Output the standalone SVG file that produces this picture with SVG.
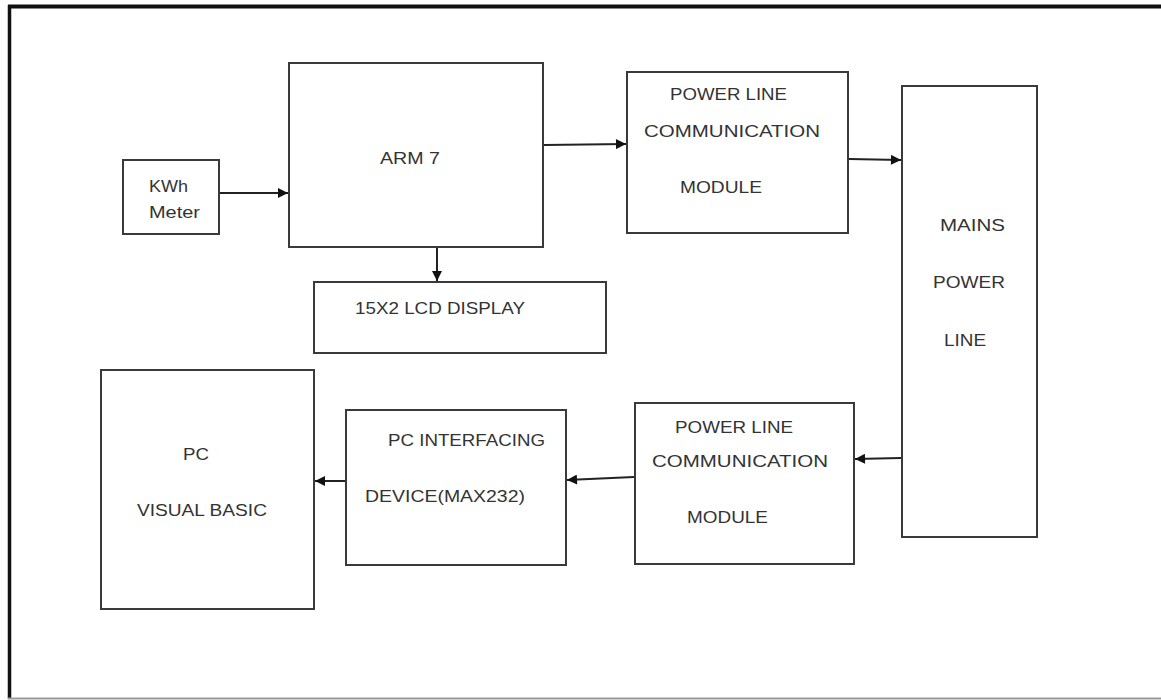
<svg xmlns="http://www.w3.org/2000/svg" width="1161" height="700" viewBox="0 0 1161 700">
<style>
.box{fill:#fff;stroke:#3a3a3a;stroke-width:2}
.lbl{font-family:"Liberation Sans",Arial,sans-serif;font-size:17px;fill:#333}
.con{stroke:#222;stroke-width:2;fill:none;marker-end:url(#ah)}
</style>
<defs>
<marker id="ah" viewBox="0 0 10 10" refX="10" refY="5" markerWidth="11" markerHeight="10" markerUnits="userSpaceOnUse" orient="auto">
<path d="M0,0 L10,5 L0,10 Z" fill="#111"/>
</marker>
</defs>
<rect width="1161" height="700" fill="#fff"/>
<g id="frame">
<line x1="8" y1="6.5" x2="1161" y2="6.5" stroke="#111" stroke-width="4"/>
<line x1="9.5" y1="5" x2="9.5" y2="699" stroke="#111" stroke-width="3.5"/>
<line x1="8" y1="698.5" x2="1161" y2="698.5" stroke="#999" stroke-width="2"/>
</g>
<g id="kwh">
<rect class="box" x="123" y="160" width="96" height="74"/>
<text class="lbl" x="149" y="192" textLength="39" lengthAdjust="spacingAndGlyphs">KWh</text>
<text class="lbl" x="149" y="218" textLength="51" lengthAdjust="spacingAndGlyphs">Meter</text>
</g>
<g id="arm">
<rect class="box" x="289" y="63" width="254" height="184"/>
<text class="lbl" x="380" y="164" textLength="60" lengthAdjust="spacingAndGlyphs">ARM 7</text>
</g>
<g id="lcd">
<rect class="box" x="314" y="282" width="292" height="71"/>
<text class="lbl" x="355" y="314" textLength="170" lengthAdjust="spacingAndGlyphs">15X2 LCD DISPLAY</text>
</g>
<g id="plc1">
<rect class="box" x="627" y="72" width="221" height="161"/>
<text class="lbl" x="670" y="100" textLength="117" lengthAdjust="spacingAndGlyphs">POWER LINE</text>
<text class="lbl" x="644" y="137" textLength="176" lengthAdjust="spacingAndGlyphs">COMMUNICATION</text>
<text class="lbl" x="680" y="193" textLength="82" lengthAdjust="spacingAndGlyphs">MODULE</text>
</g>
<g id="mains">
<rect class="box" x="902" y="86" width="135" height="451"/>
<text class="lbl" x="940" y="231" textLength="65" lengthAdjust="spacingAndGlyphs">MAINS</text>
<text class="lbl" x="933" y="288" textLength="72" lengthAdjust="spacingAndGlyphs">POWER</text>
<text class="lbl" x="944" y="346" textLength="42" lengthAdjust="spacingAndGlyphs">LINE</text>
</g>
<g id="plc2">
<rect class="box" x="635" y="403" width="219" height="161"/>
<text class="lbl" x="675" y="433" textLength="118" lengthAdjust="spacingAndGlyphs">POWER LINE</text>
<text class="lbl" x="652" y="467" textLength="176" lengthAdjust="spacingAndGlyphs">COMMUNICATION</text>
<text class="lbl" x="687" y="523" textLength="81" lengthAdjust="spacingAndGlyphs">MODULE</text>
</g>
<g id="pci">
<rect class="box" x="346" y="410" width="220" height="155"/>
<text class="lbl" x="388" y="446" textLength="157" lengthAdjust="spacingAndGlyphs">PC INTERFACING</text>
<text class="lbl" x="365" y="502" textLength="160" lengthAdjust="spacingAndGlyphs">DEVICE(MAX232)</text>
</g>
<g id="pc">
<rect class="box" x="101" y="370" width="213" height="239"/>
<text class="lbl" x="183" y="460" textLength="26" lengthAdjust="spacingAndGlyphs">PC</text>
<text class="lbl" x="137" y="516" textLength="130" lengthAdjust="spacingAndGlyphs">VISUAL BASIC</text>
</g>
<g id="connectors">
<line class="con" x1="220" y1="193" x2="288" y2="193"/>
<line class="con" x1="544" y1="145" x2="626" y2="144"/>
<line class="con" x1="437" y1="248" x2="437" y2="281"/>
<line class="con" x1="849" y1="159" x2="901" y2="160"/>
<line class="con" x1="901" y1="458" x2="855" y2="459"/>
<line class="con" x1="634" y1="477" x2="567" y2="480"/>
<line class="con" x1="345" y1="481" x2="315" y2="481"/>
</g>
</svg>
